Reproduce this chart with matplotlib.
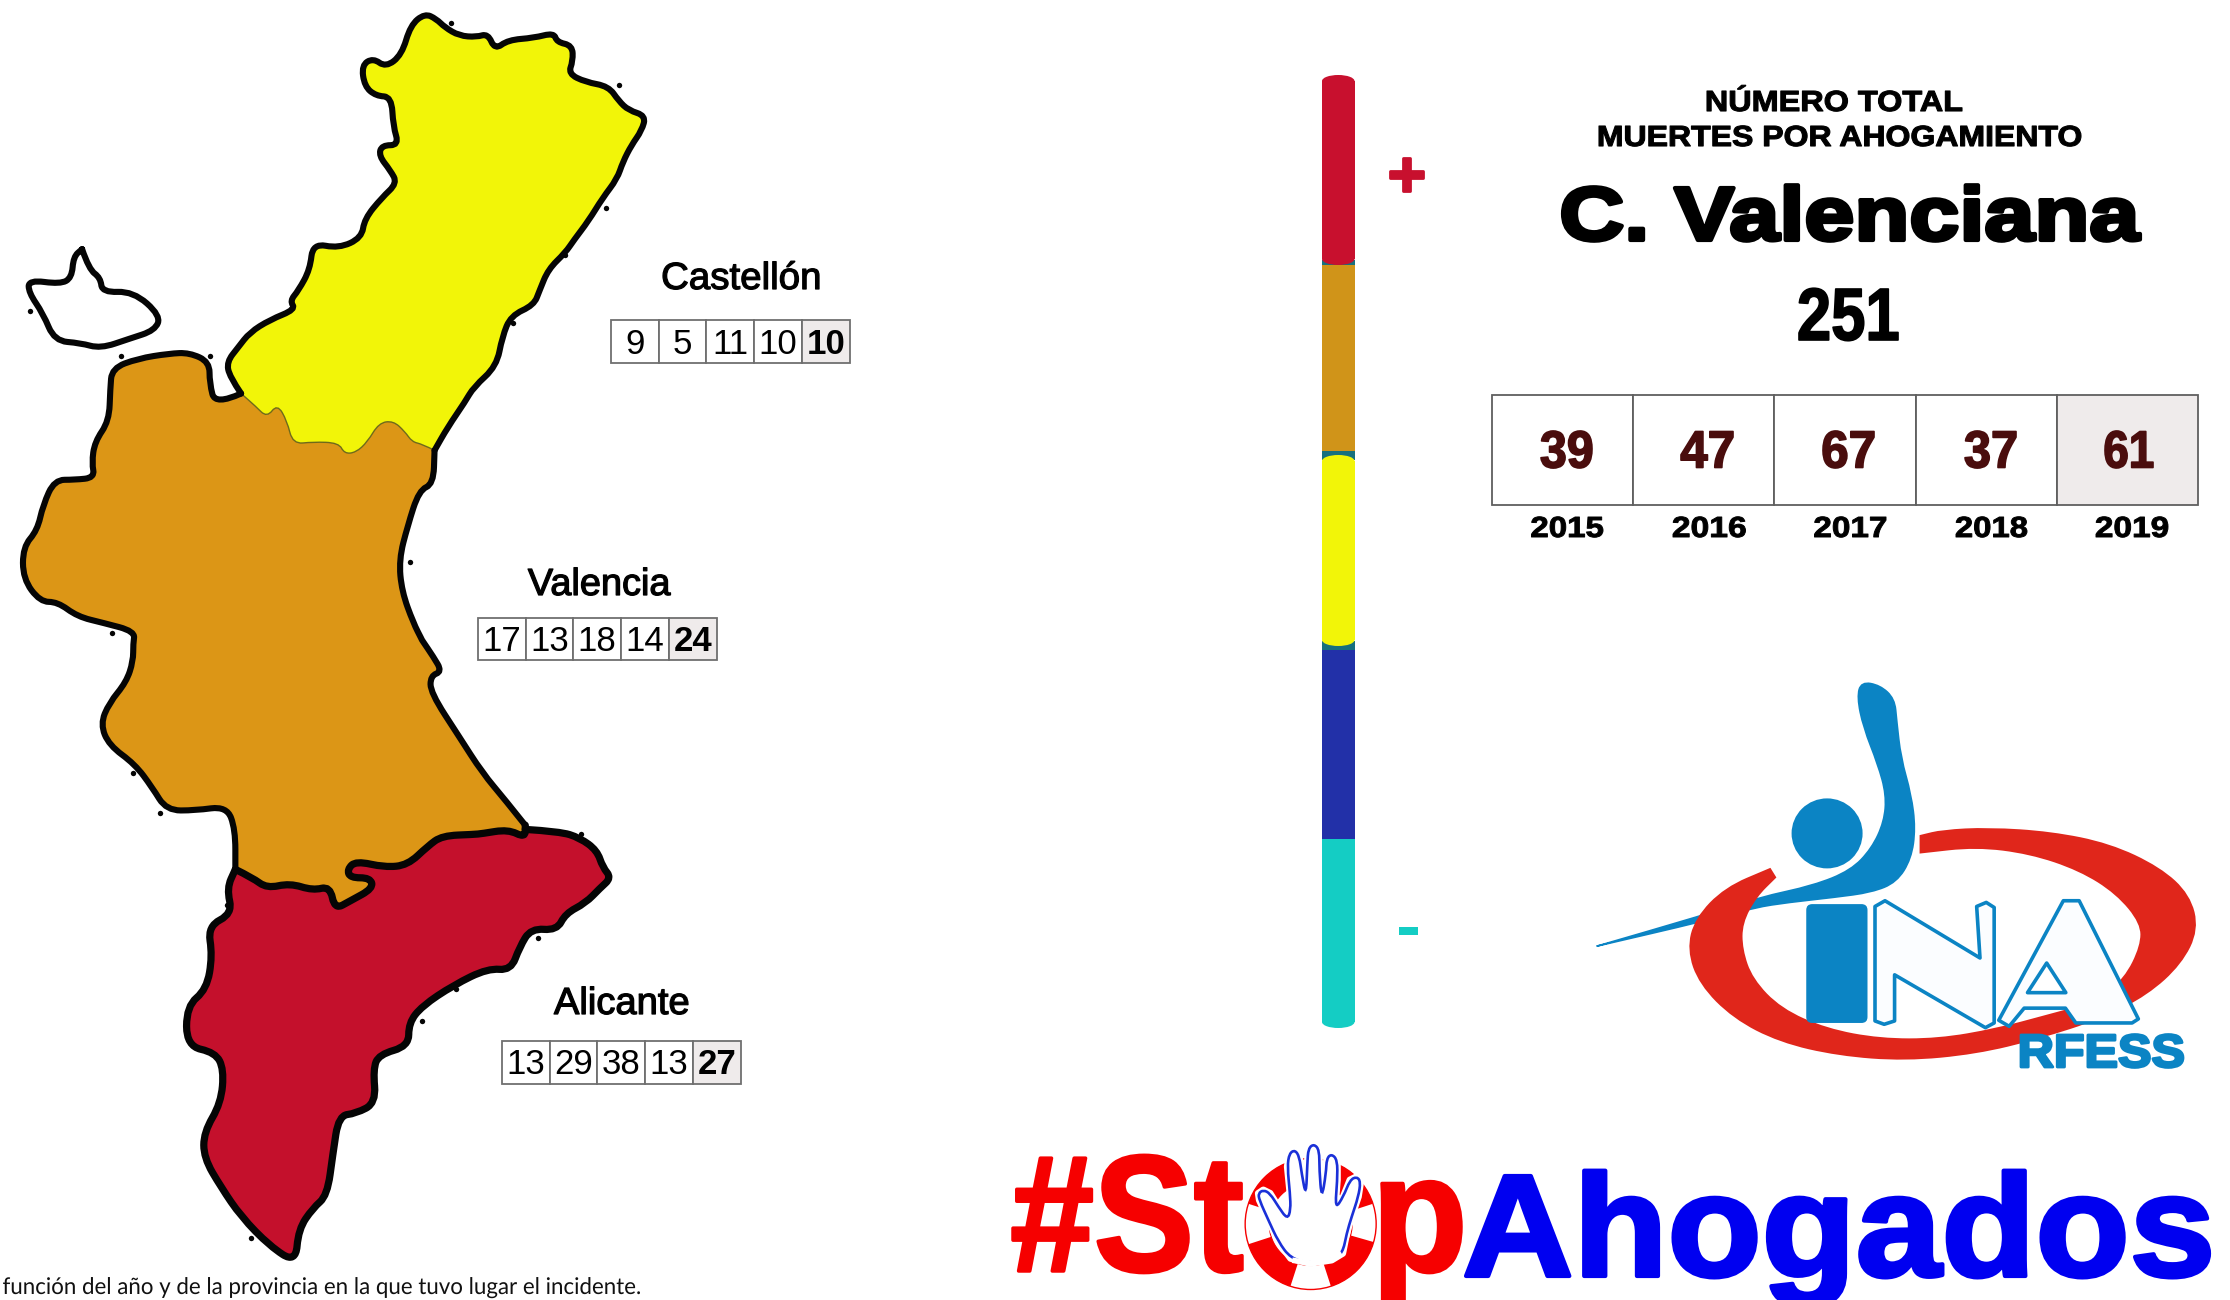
import numpy as np
import matplotlib
matplotlib.use("Agg")
import matplotlib.pyplot as plt
from matplotlib.font_manager import FontProperties
from matplotlib.patches import Polygon, Rectangle, Ellipse, Wedge, Circle, PathPatch, FancyBboxPatch
from matplotlib.path import Path
from matplotlib.patheffects import AbstractPathEffect
from matplotlib.textpath import TextPath
from matplotlib.transforms import Affine2D

# ------------------------------------------------------------------ data
years = ["2015", "2016", "2017", "2018", "2019"]
totals = [39, 47, 67, 37, 61]
grand_total = "251"
provinces = ["Castellón", "Valencia", "Alicante"]
castellon = [9, 5, 11, 10, 10]
valencia = [17, 13, 18, 14, 24]
alicante = [13, 29, 38, 13, 27]
title_1 = "NÚMERO TOTAL"
title_2 = "MUERTES POR AHOGAMIENTO"
region = "C. Valenciana"
footnote = "función del año y de la provincia en la que tuvo lugar el incidente."

YELLOW, ORANGE, RED = "#f2f508", "#dc9616", "#c4102c"
BLUE, TEAL = "#2230a8", "#14cdc4"
bar_colors = ["#c8102e", "#d09419", YELLOW, BLUE, TEAL]
bar_edges = [75, 265, 455, 646, 839, 1028]
LOGO_BLUE, LOGO_RED = "#0b84c4", "#e0261b"

# Outlines (zoomed crop coordinates)
cast_coast = [(420,935),(400,895),(395,860),(415,825),(435,790),(470,760),(515,735),(505,715),(520,690),
    (540,640),(545,578),(590,590),(630,565),(635,520),(665,470),(692,435),(680,405),(660,370),(665,345),
    (695,345),(685,300),(682,230),(655,228),(635,205),(630,155),(650,138),(672,160),(700,130),(715,60),
    (740,32),(760,45),(775,65),(800,85),(830,88),(850,80),(862,118),(885,95),(930,90),(965,78),(970,100),
    (997,108),(998,145),(990,175),(1020,195),(1060,205),(1078,240),(1095,262),(1125,275),(1118,310),
    (1100,345),(1085,385),(1075,425),(1050,470),(1025,525),(1000,570),(985,600),(955,640),(940,690),
    (930,725),(890,750),(875,800),(865,870),(825,920),(810,955),(780,1015),(757,1070)]
cast_border = [(757,1070),(735,1055),(718,1050),(705,1025),(685,1000),(660,1005),(640,1050),(620,1075),
    (600,1078),(590,1052),(545,1050),(510,1055),(500,1000),(483,960),(465,992),(445,965),(420,935)]
val_west = [(420,935),(375,963),(365,910),(365,860),(330,838),(295,840),(240,852),(195,875),(192,925),
    (190,1000),(165,1050),(160,1100),(165,1135),(130,1140),(95,1140),(75,1200),(65,1260),(40,1300),
    (40,1375),(70,1430),(100,1430),(135,1465),(180,1480),(235,1500),(232,1530)]
val_south = [(232,50),(220,100),(190,150),(175,200),(190,250),(235,295),(265,350),(290,405),(340,405),
    (395,395),(410,450),(410,545)]
val_ali_border = [(410,545),(440,565),(465,590),(505,578),(545,595),(575,585),(583,640),(610,620),(650,590),
    (645,565),(610,565),(605,545),(620,525),(670,540),(710,535),(745,490),(770,465),(825,462),(840,460),
    (885,450),(915,470),(915,440)]
val_east_south = [(915,440),(880,380),(840,315),(800,230),(750,125),(750,85),(770,75),(755,40),(735,0)]
val_east_north = [(735,1520),(720,1480),(700,1405),(695,1330),(710,1250),(730,1165),(755,1150),(757,1070)]
ali_coast = [(915,450),(975,455),(1010,470),(1040,500),(1050,540),(1065,565),(1045,590),(1020,625),(985,650),
    (970,690),(925,685),(905,730),(890,785),(850,780),(790,820),(735,870),(712,910),(712,965),(660,985),
    (650,1020),(655,1100),(620,1125),(590,1130),(580,1220),(570,1320),(545,1350),(520,1400),(515,1480),
    (470,1440),(420,1370),(385,1300),(355,1230),(355,1170),(385,1100),(390,1020),(375,980),(325,965),
    (325,870),(360,830),(370,750),(362,680),(405,650),(395,590),(410,545)]
enclave = [(143,592),(155,640),(175,660),(178,695),(232,692),(280,750),(270,785),(225,805),(175,828),
    (140,815),(95,810),(75,745),(50,695),(50,665),(105,675),(125,660),(128,610),(143,592)]
specks_1 = [(785,55),(1078,203),(1055,495),(985,607),(893,768),(715,1335),(195,1505),(365,845),(210,845),(52,740)]
specks_2 = [(232,316),(278,412),(1012,460),(395,630),(938,708),(735,905),(795,830),(438,1420)]

swoosh = [(455,625),(455,625),(350,680),(280,770),(262,860),(290,960),(370,1060),(480,1130),(620,1170),(780,1185),
    (950,1165),(1100,1120),(1250,1060),(1360,990),(1440,900),(1480,800),(1460,700),(1390,620),(1270,550),
    (1130,515),(980,503),(870,510),(820,525),(820,525),(820,568),(820,568),(950,550),(1080,570),(1200,620),
    (1290,690),(1350,780),(1350,850),(1310,950),(1240,1020),(1120,1060),(1000,1100),(860,1130),(720,1130),
    (590,1100),(480,1040),(410,950),(385,860),(385,780),(420,700),(465,645),(465,645)]
swimmer = [(40,850),(40,850),(290,760),(430,705),(560,670),(650,625),(700,560),(730,480),(735,400),(715,310),(680,200),
    (665,110),(675,65),(720,75),(755,115),(760,180),(770,290),(795,400),(805,500),(795,590),(760,660),
    (700,690),(610,705),(500,720),(420,735),(300,775),(40,850),(40,850)]
letter_n = [(708,732),(732,715),(960,885),(952,732),(975,720),(994,735),(994,1078),(973,1092),(755,935),
    (755,1072),(730,1082),(708,1072)]
letter_a = [(1160,715),(1198,715),(1340,1066),(1325,1078),(1190,1078),(1165,1034),(1066,1034),(1030,1088),
    (1005,1070)]
letter_a_hole = [(1120,900),(1074,988),(1166,988)]
hand = [(272,385),(235,335),(205,270),(178,210),(175,190),(190,180),(210,190),(235,230),(262,268),(272,240),
    (270,190),(262,110),(268,70),(285,60),(298,80),(305,130),(318,200),(322,100),(325,55),(342,42),(358,60),
    (358,120),(365,208),(378,130),(380,85),(395,72),(412,90),(412,150),(405,238),(430,200),(450,150),(470,140),
    (482,155),(475,200),(455,260),(440,310),(428,370),(395,390),(330,400)]


def z1(p):
    return np.array(p, float) / [1.742, 2.376]
def z2(p):
    return np.array(p, float) / [1.742, 2.376] + [0, 640]
def z4(p):
    return np.array(p, float) / [2.4, 2.97] + [1580, 660]
def z7(p):
    return np.array(p, float) / 3 + [1200, 1130]


# ------------------------------------------------------------------ canvas
fig = plt.figure(figsize=(22.3, 13), dpi=100, facecolor="white")
ax = fig.add_axes([0, 0, 1, 1])
ax.set_xlim(0, 2230)
ax.set_ylim(1300, 0)
ax.axis("off")


class Stretch(AbstractPathEffect):
    """Widen real text about its origin, as the stretched lettering of the reference."""
    def __init__(self, sx, cx, stroke=0.0):
        super().__init__()
        self.sx, self.cx, self.stroke = sx, cx, stroke

    def draw_path(self, renderer, gc, tpath, affine, rgbFace=None):
        aff = affine + Affine2D().translate(-self.cx, 0).scale(self.sx, 1).translate(self.cx, 0)
        g = renderer.new_gc()
        g.copy_properties(gc)
        if self.stroke and rgbFace is not None:
            g.set_linewidth(self.stroke)
            g.set_foreground(rgbFace)
            g.set_joinstyle("round")
        renderer.draw_path(g, tpath, aff, rgbFace)
        g.restore()


def ink(s, fp):
    e = TextPath((0, 0), s, size=100, prop=fp).get_extents()
    return e.x0 / 100, e.x1 / 100, e.y0 / 100, e.y1 / 100


def fp_of(weight="bold", family="Liberation Sans"):
    return FontProperties(family=family, weight=weight)


def fit(s, x0, x1, base, cap, color="black", weight="bold", family="Liberation Sans", stroke=0.0, z=10):
    """Text whose ink runs from x0 to x1, on baseline `base`, with capitals `cap` pixels high."""
    fp = fp_of(weight, family)
    h = ink("H", fp)[3]
    px = cap / h
    ix0, ix1, _, _ = ink(s, fp)
    sx = (x1 - x0) / ((ix1 - ix0) * px)
    ox = x0 - ix0 * px * sx
    return ax.text(ox, base, s, fontproperties=fp, fontsize=px * 0.72, color=color, ha="left", va="baseline",
                   path_effects=[Stretch(sx, ox, stroke)], zorder=z)


def fit_box(s, x0, x1, y0, y1, color, weight="bold", stroke=0.0, z=10):
    """Text (a sign) whose ink fills the box x0..x1, y0..y1."""
    fp = fp_of(weight)
    ix0, ix1, iy0, iy1 = ink(s, fp)
    px = (y1 - y0) / (iy1 - iy0)
    sx = (x1 - x0) / ((ix1 - ix0) * px)
    ox = x0 - ix0 * px * sx
    return ax.text(ox, y1 + iy0 * px, s, fontproperties=fp, fontsize=px * 0.72, color=color, ha="left",
                   va="baseline", path_effects=[Stretch(sx, ox, stroke)], zorder=z)


def centred(s, cx, base, cap, color="black", weight="normal", z=10):
    fp = fp_of(weight)
    px = cap / ink("H", fp)[3]
    return ax.text(cx, base, s, fontproperties=fp, fontsize=px * 0.72, color=color, ha="center", va="baseline", zorder=z)


def smooth(points, **kw):
    pts = np.array(points, float)
    mids = (pts + np.roll(pts, -1, axis=0)) / 2
    verts = [mids[-1]]
    codes = [Path.MOVETO]
    for p, m in zip(pts, mids):
        verts += [p, m]
        codes += [Path.CURVE3, Path.CURVE3]
    ax.add_patch(PathPatch(Path(verts, codes), **kw))


def smooth_line(points, **kw):
    pts = np.array(points, float)
    verts = [pts[0]]
    codes = [Path.MOVETO]
    for a, b in zip(pts[1:-1], pts[2:]):
        verts += [a, (a + b) / 2]
        codes += [Path.CURVE3, Path.CURVE3]
    verts.append(pts[-1])
    codes.append(Path.LINETO)
    ax.add_patch(PathPatch(Path(verts, codes), fc="none", **kw))


# ------------------------------------------------------------------ map
LW = 4.4
cast_xy = np.vstack([z1(cast_coast), z1(cast_border)])
val_east = np.vstack([z2(val_east_south), z1(val_east_north)])
val_west_all = np.vstack([z1(val_west), z2(val_south)])
val_xy = np.vstack([val_west_all, z2(val_ali_border), val_east, z1(cast_border)])
ali_xy = np.vstack([z2(ali_coast), z2(val_ali_border)])
smooth(val_xy, fc=ORANGE, ec="none", zorder=2)
smooth(cast_xy, fc=YELLOW, ec="none", zorder=2)
smooth(ali_xy, fc=RED, ec="none", zorder=2)
smooth_line(z1(cast_border), ec="#6e6a1a", lw=1.0, zorder=3)
for xy, w in [(z1(cast_coast), LW), (val_west_all, LW), (z2(val_ali_border), LW + .8), (val_east, LW),
              (z2(ali_coast), LW + .8), (z1(enclave), LW)]:
    smooth_line(xy, ec="#050505", lw=w, joinstyle="round", capstyle="round", zorder=4)
ax.scatter(*np.vstack([z1(specks_1), z2(specks_2)]).T, s=15, color="#050505", lw=0, zorder=4)

# province labels and year cells
label_pos = [(663, 819, 289), (528, 670.5, 595), (554, 688, 1014)]
cell_pos = [(611, 320), (478, 617.5), (502, 1041)]
cell_w, cell_h = 47.7, 42.5
for name, (lx0, lx1, lb), (cx, cy), vals in zip(provinces, label_pos, cell_pos, [castellon, valencia, alicante]):
    fit(name, lx0, lx1, lb, 26, weight="normal", stroke=0.9)
    for i, v in enumerate(vals):
        last = i == len(vals) - 1
        ax.add_patch(Rectangle((cx + i * cell_w, cy), cell_w, cell_h, fc="#efebeb" if last else "white",
                               ec="#6f6f6f", lw=1.3, zorder=5))
        centred(str(v), cx + (i + .5) * cell_w, cy + 33.5, 24, weight="bold" if last else "normal")

footer_txt = fit(footnote, 3, 640, 1294, 16.5, color="#111111", weight="normal", family="Lato")

# ------------------------------------------------------------------ colour bar
bx0, bx1 = 1322, 1354.5
bw = bx1 - bx0
# dark notches where the segments meet
for yj in bar_edges[1:4]:
    ax.add_patch(Rectangle((bx0, yj - 5), bw, 10, fc="#17707e", ec="none", zorder=2))
for i, c in enumerate(bar_colors):
    y0, y1 = bar_edges[i], bar_edges[i + 1]
    cap_top = i in (0, 2)
    cap_bot = i in (0, 2, 4)
    top = y0 + (4 if i == 3 else 0)
    bot = y1 - (4 if i in (1,) else 0)
    r0 = top + (6 if cap_top else 0)
    r1 = bot - (6 if cap_bot else 0)
    ax.add_patch(Rectangle((bx0, r0), bw, r1 - r0, fc=c, ec="none", zorder=3))
    if cap_top:
        ax.add_patch(Ellipse(((bx0 + bx1) / 2, r0), bw, 12, fc=c, ec="none", zorder=3))
    if cap_bot:
        ax.add_patch(Ellipse(((bx0 + bx1) / 2, r1), bw, 12, fc=c, ec="none", zorder=3))
fit_box("+", 1390, 1423, 158, 191, "#c8102e", stroke=2.0)
fit_box("-", 1398.7, 1418, 926.7, 935.3, TEAL)

# ------------------------------------------------------------------ totals panel
fit(title_1, 1707, 1962, 111, 20, stroke=0.8)
fit(title_2, 1599, 2081, 146, 20, stroke=0.8)
fit(region, 1563, 2140, 240, 52, stroke=3.0)
fit(grand_total, 1799, 1898, 340, 51, stroke=1.2)

big_x0, big_y0, big_w, big_h = 1492, 395, 141.2, 110
year_spans = [(1531.5, 1603), (1673, 1745.5), (1814.5, 1886), (1956, 2027), (2096, 2168)]
num_spans = [(1541, 1592), (1681, 1733), (1823, 1874), (1965, 2016), (2105, 2153)]
for i, (yr, v, ys, ns) in enumerate(zip(years, totals, year_spans, num_spans)):
    ax.add_patch(Rectangle((big_x0 + i * big_w, big_y0), big_w, big_h, fc="#efebeb" if i == len(years) - 1 else "white",
                           ec="#5f5f5f", lw=1.3, zorder=5))
    fit(str(v), ns[0], ns[1], 467.5, 36, color="#4a0d0d", stroke=1.2)
    fit(yr, ys[0], ys[1], 537, 20, stroke=0.7)

# ------------------------------------------------------------------ INA logo
smooth(z4(swimmer), fc=LOGO_BLUE, ec=LOGO_BLUE, lw=1.2, zorder=3)
ax.add_patch(Ellipse(z4([(593, 515)])[0], 71, 70, fc=LOGO_BLUE, ec="none", zorder=3))
smooth(z4(swoosh), fc=LOGO_RED, ec=LOGO_RED, lw=3.0, zorder=4)
i0, j0 = z4([(543, 725)])[0]
i1, j1 = z4([(690, 1078)])[0]
ax.add_patch(FancyBboxPatch((i0 + 5, j0 + 5), i1 - i0 - 10, j1 - j0 - 10, boxstyle="round,pad=5,rounding_size=6",
                            fc=LOGO_BLUE, ec="none", zorder=5))
LOGO_EDGE = dict(fc="#fbfdff", ec=LOGO_BLUE, lw=2.6, joinstyle="round", zorder=5)
ax.add_patch(Polygon(z4(letter_n), closed=True, **LOGO_EDGE))
ax.add_patch(Polygon(z4(letter_a), closed=True, **LOGO_EDGE))
ax.add_patch(Polygon(z4(letter_a_hole), closed=True, **{**LOGO_EDGE, "fc": "white"}))
fit("RFESS", 2021, 2183, 1067, 32, color=LOGO_BLUE, stroke=2.0, z=6)

# ------------------------------------------------------------------ #StopAhogados
S_RED, S_BLUE = "#f60000", "#0000f0"
fit("#St", 1013, 1242, 1271, 114, color=S_RED, stroke=2.5, z=3)
fit("p", 1382, 1461, 1271, 114, color=S_RED, stroke=2.5, z=3)
fit("Ahogados", 1466, 2209, 1276, 100, color=S_BLUE, stroke=3.0, z=3)

ring_c = z7([(332, 282)])[0]
ax.add_patch(Circle(ring_c, 65.5, fc="white", ec=S_RED, lw=1.0, zorder=4))
wedge_spans = [(16, 72), (108, 162), (198, 250), (290, 342)]
for a0, a1 in wedge_spans:
    # y axis points down: wedge angles run clockwise on screen
    ax.add_patch(Wedge(ring_c, 65.5, a0, a1, width=24, fc=S_RED, ec="none", zorder=4))
# the ring's inner edge
ax.add_patch(Circle(ring_c, 41.5, fc="none", ec=S_RED, lw=0.8, zorder=4))
ax.add_patch(Polygon(z7(hand), closed=True, fc="white", ec="white", lw=5, joinstyle="round", zorder=5))
smooth(z7(hand), fc="white", ec="#1a30d8", lw=1.9, zorder=6)
# palm base has no blue edge
ax.plot(*z7([(285, 392), (330, 399), (395, 389), (418, 375)]).T, color="white", lw=4, zorder=7)

fig.savefig("out.png", dpi=100, facecolor="white")
